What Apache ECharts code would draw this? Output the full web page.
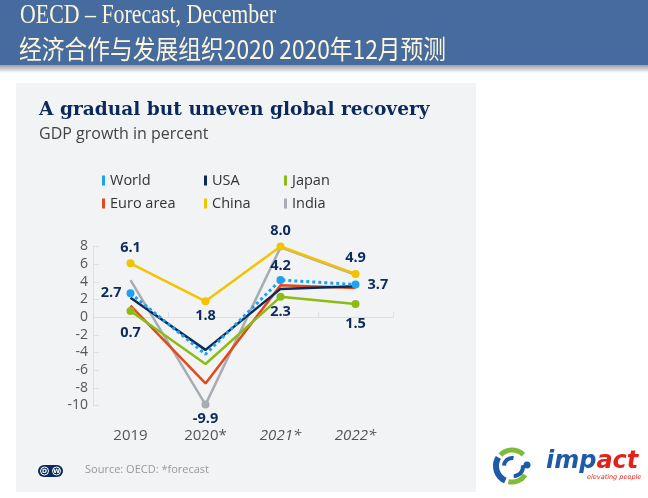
<!DOCTYPE html>
<html>
<head>
<meta charset="utf-8">
<script src="https://cdn.jsdelivr.net/npm/echarts@6/dist/echarts.min.js"></script>
<style>
html,body{margin:0;padding:0;background:#fff;}
#c{width:648px;height:498px;}
</style>
</head>
<body>
<div id="c"></div>
<script>
var categories = ['2019', '2020*', '2021*', '2022*'];
var world = [2.7, -4.2, 4.2, 3.7];
var usa = [2.2, -3.7, 3.2, 3.5];
var japan = [0.7, -5.3, 2.3, 1.5];
var euroArea = [1.3, -7.5, 3.6, 3.3];
var china = [6.1, 1.8, 8.0, 4.9];
var india = [4.2, -9.9, 7.9, 4.8];
var yTicks = [-10, -8, -6, -4, -2, 0, 2, 4, 6, 8];

var chart = echarts.init(document.getElementById('c'));

var labelColor = '#0d2b5a';
function buildData(values, dots, labels) {
  return values.map(function (v, i) {
    var item = { value: v };
    if (dots.indexOf(i) < 0) { item.symbolSize = 0; }
    var lb = labels[i];
    if (lb) {
      item.label = {
        show: true, position: lb[0], distance: lb[1], offset: lb[2] || [0, 0],
        color: labelColor, fontFamily: 'Open Sans', fontWeight: 'bold', fontSize: 14.5,
        formatter: function (p) { return p.value.toFixed(1); }
      };
    }
    return item;
  });
}

function series(name, values, color, dots, labels, dotted, z) {
  return {
    name: name, type: 'line', data: buildData(values, dots, labels),
    symbol: 'circle', symbolSize: 8, z: z,
    lineStyle: { color: color, width: dotted ? 3 : 2.5, type: dotted ? [3, 3] : 'solid' },
    itemStyle: { color: color },
    emphasis: { disabled: true },
    animation: false
  };
}

var cols = { World: '#1ba3f0', USA: '#0b2a5a', Japan: '#8dbb15', 'Euro area': '#e04a1c', China: '#f4c300', India: '#a8adb5' };

var legendBase = {
  orient: 'vertical', icon: 'rect', itemWidth: 3, itemHeight: 10, itemGap: 8,
  textStyle: { fontFamily: 'Open Sans', fontSize: 14.5, color: '#333' },
  selectedMode: false, top: 168
};

var baseGraphic = [
  { type: 'rect', shape: { x: 0, y: 0, width: 648, height: 65 }, style: { fill: '#466b9e' }, z: -10 },
  { type: 'rect', shape: { x: 0, y: 65, width: 648, height: 8 }, style: { fill: new echarts.graphic.LinearGradient(0, 0, 0, 1, [{ offset: 0, color: '#9a9ea5' }, { offset: 1, color: '#ffffff' }]) }, z: -10 },
  { type: 'rect', shape: { x: 16, y: 83, width: 460, height: 409 }, style: { fill: '#f2f3f5' }, z: -10 },
  { type: 'text', x: 20, y: 16, scaleX: 0.81, style: { text: 'OECD – Forecast, December', fill: '#fdf6dc', font: '27px "Liberation Serif"', verticalAlign: 'middle' } },
  { type: 'text', x: 19, y: 49, scaleX: 0.875, style: { text: '经济合作与发展组织2020 2020年12月预测', fill: '#fdf6dc', font: '26px "Noto Sans CJK SC"', verticalAlign: 'middle' } },
  { type: 'text', x: 39, y: 110, style: { text: 'A gradual but uneven global recovery', fill: '#0b2a5b', font: 'bold 18.6px "DejaVu Serif"', verticalAlign: 'middle' } },
  { type: 'text', x: 39, y: 134, style: { text: 'GDP growth in percent', fill: '#444', font: '16px "Open Sans"', verticalAlign: 'middle' } },
  { type: 'text', x: 85, y: 470, style: { text: 'Source: OECD: *forecast', fill: '#999', font: '11px "Open Sans"', verticalAlign: 'middle' } },
  { type: 'rect', shape: { x: 38, y: 465, width: 25, height: 12, r: 6 }, style: { fill: '#0b2a5b' } },
  { type: 'circle', shape: { cx: 44.5, cy: 471, r: 4 }, style: { fill: '#0b2a5b', stroke: '#fff', lineWidth: 1 } },
  { type: 'circle', shape: { cx: 56.5, cy: 471, r: 4 }, style: { fill: '#0b2a5b', stroke: '#fff', lineWidth: 1 } },
  { type: 'text', x: 44.5, y: 471.5, style: { text: 'D', fill: '#fff', font: 'bold 6px "DejaVu Sans"', align: 'center', verticalAlign: 'middle' } },
  { type: 'text', x: 56.5, y: 471.5, style: { text: 'W', fill: '#fff', font: 'bold 6px "DejaVu Sans"', align: 'center', verticalAlign: 'middle' } },
  // impact logo
  { type: 'arc', shape: { cx: 512, cy: 466, r: 16, startAngle: 2.0, endAngle: 3.7 }, style: { stroke: '#1d5aa8', lineWidth: 6, fill: null } },
  { type: 'arc', shape: { cx: 512, cy: 466, r: 16, startAngle: 3.9, endAngle: 5.5 }, style: { stroke: '#7fbc3c', lineWidth: 5, fill: null } },
  { type: 'arc', shape: { cx: 512, cy: 466, r: 16, startAngle: 0.6, endAngle: 1.8 }, style: { stroke: '#7fbc3c', lineWidth: 5, fill: null } },
  { type: 'arc', shape: { cx: 512, cy: 466, r: 8, startAngle: 3.2, endAngle: 4.9 }, style: { stroke: '#1d5aa8', lineWidth: 4, fill: null } },
  { type: 'circle', shape: { cx: 527, cy: 465, r: 3.5 }, style: { fill: '#1d5aa8' } },
  { type: 'arc', shape: { cx: 514, cy: 467, r: 9, startAngle: -0.2, endAngle: 1.6 }, style: { stroke: '#1d5aa8', lineWidth: 4, fill: null } },
  { type: 'text', x: 546, y: 462, style: { text: '{b|imp}{r|act}', verticalAlign: 'middle',
      rich: { b: { fill: '#1d5aa8', font: 'italic bold 24px "DejaVu Sans"' }, r: { fill: '#e2231a', font: 'italic bold 24px "DejaVu Sans"' } } } },
  { type: 'text', x: 587, y: 477, style: { text: 'elevating people', fill: '#e2231a', font: 'italic 6.5px "DejaVu Sans"', verticalAlign: 'middle' } }
];

chart.setOption({
  backgroundColor: '#ffffff',
  animation: false,
  graphic: baseGraphic,
  legend: [
    Object.assign({}, legendBase, { left: 97, data: ['World', 'Euro area'] }),
    Object.assign({}, legendBase, { left: 199, data: ['USA', 'China'] }),
    Object.assign({}, legendBase, { left: 279, data: ['Japan', 'India'] })
  ],
  grid: { left: 93, right: 255, top: 246.5, bottom: 92.5, containLabel: false },
  xAxis: {
    type: 'category', data: categories, boundaryGap: true,
    axisLine: { onZero: true, lineStyle: { color: '#dcdfe3', width: 1 } },
    axisTick: { show: true, inside: true, length: 5, interval: 0, lineStyle: { color: '#dcdfe3' } },
    axisLabel: { show: false },
    splitLine: { show: false }
  },
  yAxis: {
    type: 'value', min: -10, max: 8, interval: 2,
    axisLine: { show: true, lineStyle: { color: '#dcdfe3' } },
    axisTick: { show: true, inside: true, length: 6, lineStyle: { color: '#dcdfe3' } },
    axisLabel: { color: '#555', fontFamily: 'Open Sans', fontSize: 14, margin: 5,
      formatter: function (v) { return yTicks.indexOf(v) >= 0 ? String(v) : ''; } },
    splitLine: { show: false }
  },
  series: [
    series('India', india, cols.India, [1], { 1: ['bottom', 3] }, false, 1),
    series('Euro area', euroArea, cols['Euro area'], [], {}, false, 2),
    series('Japan', japan, cols.Japan, [0, 2, 3], { 0: ['bottom', 10], 2: ['bottom', 4], 3: ['bottom', 8] }, false, 3),
    series('USA', usa, cols.USA, [], {}, false, 4),
    series('World', world, cols.World, [0, 2, 3], { 0: ['left', 5], 2: ['top', 3], 3: ['right', 8] }, true, 5),
    series('China', china, cols.China, [0, 1, 2, 3], { 0: ['top', 4], 1: ['bottom', 3], 2: ['top', 4], 3: ['top', 5] }, false, 6)
  ]
});

// x-axis category labels drawn below the plot through the axis scale
var xl = categories.map(function (c, i) {
  var px = chart.convertToPixel({ xAxisIndex: 0 }, i);
  return { type: 'text', x: px, y: 436, style: { text: c, fill: '#555', font: (i >= 2 ? 'italic ' : '') + '15px "Open Sans"', align: 'center', verticalAlign: 'middle' } };
});
chart.setOption({ graphic: baseGraphic.concat(xl) }, { replaceMerge: ['graphic'] });
</script>
</body>
</html>
